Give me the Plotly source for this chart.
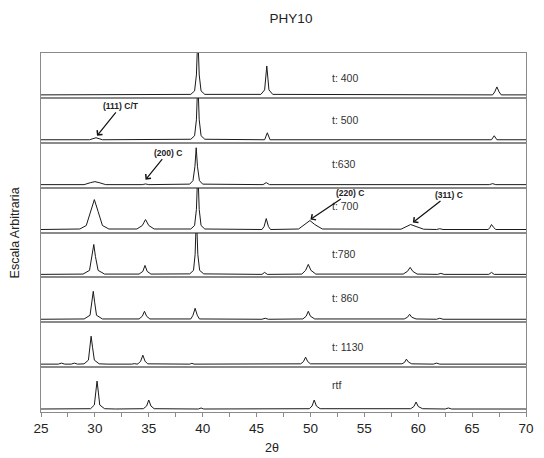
import plotly.graph_objects as go
from plotly.subplots import make_subplots

# ---------------- data (vertices) ----------------
labels = ["t: 400", "t: 500", "t:630", "t: 700", "t:780", "t: 860", "t: 1130", "rtf"]
label_y = [17, 20, 21, 24, 20, 21, 17, 24]

x_400 = [25, 38.9, 39.25, 39.42, 39.55, 39.68, 39.85, 40.2, 45.4, 45.75, 45.95, 46.15, 46.5, 66.9, 67.1, 67.3, 67.5, 67.7, 70]
y_400 = [0, 0.5, 4, 20, 60, 20, 4, 0.5, 0.5, 5, 29, 5, 0.5, 0, 3, 8, 3, 0, 0]

x_500 = [25, 29.5, 30.1, 30.7, 38.9, 39.25, 39.42, 39.55, 39.68, 39.85, 40.2, 45.75, 46.0, 46.25, 66.8, 67.05, 67.3, 70]
y_500 = [0, 0, 2, 0, 0.5, 4, 20, 60, 20, 4, 0.5, 0, 7, 0, 0, 4, 0, 0]

x_630 = [25, 29.0, 29.6, 30.0, 30.4, 31.0, 34.4, 34.7, 35.0, 38.8, 39.1, 39.28, 39.4, 39.52, 39.7, 40.0, 45.6, 45.9, 46.2, 66.6, 66.9, 67.2, 70]
y_630 = [0, 0, 2, 3, 2, 0, 0, 0.7, 0, 0.5, 4, 18, 37, 18, 4, 0.5, 0, 2, 0, 0, 1, 0, 0]

x_700 = [25, 28.6, 29.2, 29.6, 29.95, 30.3, 30.7, 31.3, 33.9, 34.4, 34.7, 35.0, 35.5, 38.9, 39.25, 39.42, 39.55, 39.68, 39.85, 40.2,
         45.5, 45.7, 45.9, 46.1, 46.3, 48.9, 49.5, 49.95, 50.4, 51.1, 58.4, 58.9, 59.3, 59.8, 60.5, 61.7, 62.0, 62.3,
         66.5, 66.65, 66.8, 67.0, 67.2, 70]
y_700 = [0, 0.5, 4, 18, 30, 18, 4, 0.5, 0.5, 4, 10, 4, 0.5, 0.5, 4, 20, 60, 20, 4, 0.5,
         0, 3, 11, 3, 0, 0.5, 5, 9, 5, 0.5, 0.3, 3, 5, 3, 0.3, 0, 0.8, 0,
         0, 2, 5, 2, 0, 0]

x_780 = [25, 28.9, 29.5, 29.75, 29.9, 30.05, 30.3, 30.9, 34.1, 34.45, 34.65, 34.85, 35.2, 38.8, 39.15, 39.3, 39.42, 39.55, 39.72, 40.1,
         45.5, 45.75, 46.0, 49.2, 49.55, 49.8, 50.05, 50.5, 58.6, 59.0, 59.25, 59.5, 59.9, 61.8, 62.1, 62.4, 66.55, 66.8, 67.05, 70]
y_780 = [0, 0.3, 4, 18, 30, 18, 4, 0.3, 0.3, 3, 9, 3, 0.3, 0.5, 4, 20, 60, 20, 4, 0.5,
         0, 2, 0, 0.3, 4, 10, 4, 0.3, 0.3, 3, 7, 3, 0.3, 0, 1, 0, 0, 2, 0, 0]

x_860 = [25, 29.0, 29.55, 29.72, 29.85, 29.98, 30.15, 30.7, 34.1, 34.4, 34.6, 34.8, 35.1, 38.9, 39.1, 39.3, 39.5, 39.7,
         45.5, 45.8, 46.1, 49.3, 49.6, 49.8, 50.0, 50.4, 58.7, 59.0, 59.2, 59.4, 59.8, 61.7, 62.0, 62.3, 70]
y_860 = [0, 0.3, 4, 17, 28, 17, 4, 0.3, 0.3, 3, 8, 3, 0.3, 0.3, 4, 11, 4, 0.3,
         0, 1, 0, 0.3, 3, 8, 3, 0.3, 0.3, 2, 5, 2, 0.3, 0, 1, 0, 0]

x_1130 = [25, 26.6, 26.9, 27.2, 27.8, 28.1, 28.4, 29.0, 29.4, 29.55, 29.65, 29.78, 29.95, 30.4, 30.8, 31.0, 31.2, 33.4, 33.7, 33.9,
          34.0, 34.25, 34.45, 34.65, 34.9, 38.8, 39.0, 39.2, 45.3, 45.55, 45.8, 49.1, 49.35, 49.55, 49.75, 50.0, 58.5, 58.75, 58.9, 59.1, 59.4,
          61.4, 61.7, 62.0, 70]
y_1130 = [0, 0, 1, 0, 0, 1, 0, 0.3, 4, 17, 28, 17, 4, 0.3, 0, 0.5, 0, 0, 0.5, 0,
          0.3, 3, 9, 3, 0.3, 0, 0.8, 0, 0, 0.5, 0, 0.3, 2.5, 7, 2.5, 0.3, 0.3, 2, 5, 2, 0.3,
          0, 1, 0, 0]

x_rtf = [25, 26.8, 27.1, 27.4, 28.1, 28.4, 28.7, 29.6, 29.95, 30.08, 30.2, 30.32, 30.45, 30.9, 31.5, 31.7, 31.9,
         34.5, 34.8, 35.0, 35.2, 35.5, 39.6, 39.85, 40.1, 49.9, 50.15, 50.35, 50.55, 50.9, 59.3, 59.6, 59.8, 60.0, 60.4,
         62.5, 62.8, 63.1, 70]
y_rtf = [0, 0, 0.7, 0, 0, 0.7, 0, 0.3, 4, 17, 28, 17, 4, 0.3, 0, 0.5, 0,
         0.3, 3, 9, 3, 0.3, 0, 1, 0, 0.3, 3, 9, 3, 0.3, 0.3, 2.5, 7, 2.5, 0.3,
         0, 1, 0, 0]

series_x = [x_400, x_500, x_630, x_700, x_780, x_860, x_1130, x_rtf]
series_y = [y_400, y_500, y_630, y_700, y_780, y_860, y_1130, y_rtf]

# arrow annotations: text, panel index, tip x, tip y
arrow_text = ["(111) C/T", "(200) C", "(220) C", "(311) C"]
arrow_panel = [1, 2, 3, 3]
arrow_x = [30.2, 34.7, 50.0, 59.5]
arrow_y = [4, 5, 10, 7]

tick_vals = [25, 30, 35, 40, 45, 50, 55, 60, 65, 70]

# ---------------- figure ----------------
FONT = "Liberation Sans, Arial, sans-serif"
frame = "#8a8a8a"
n = len(labels)
fig = make_subplots(rows=n, cols=1, shared_xaxes=True, vertical_spacing=0)

for i in range(n):
    fig.add_trace(go.Scatter(x=series_x[i], y=series_y[i], mode="lines",
                             line=dict(color="#1a1a1a", width=1), showlegend=False,
                             hoverinfo="skip"), row=i + 1, col=1)
    fig.update_yaxes(range=[-3, 42], showticklabels=False, ticks="", showgrid=False,
                     zeroline=False, showline=True, linecolor=frame, linewidth=1,
                     mirror=True, row=i + 1, col=1)
    fig.update_xaxes(range=[25, 70], showgrid=False, zeroline=False, showline=True,
                     linecolor=frame, linewidth=1, mirror=True, row=i + 1, col=1)
    yref = "y" if i == 0 else f"y{i + 1}"
    fig.add_annotation(x=51.8, y=label_y[i], xref="x", yref=yref, text=labels[i],
                       showarrow=False, xanchor="left", yanchor="middle",
                       font=dict(family=FONT, size=10.5, color="#333"))

fig.update_xaxes(ticks="outside", ticklen=4, tickcolor=frame, tickvals=tick_vals,
                 ticktext=[str(v) for v in tick_vals],
                 minor=dict(dtick=2.5, ticks="outside", ticklen=4, tickcolor=frame),
                 tickfont=dict(family=FONT, size=13.5, color="#222"), row=n, col=1)

for t, p, ax_, ay_, dx, dy in zip(arrow_text, arrow_panel, arrow_x, arrow_y,
                                  [24, 22, 40, 36], [-30, -27, -27, -28]):
    yref = f"y{p + 1}"
    fig.add_annotation(x=ax_, y=ay_, xref="x", yref=yref, text="<b>" + t + "</b>",
                       showarrow=True, ax=dx, ay=dy, arrowhead=4, arrowsize=1.1,
                       arrowwidth=1.2, arrowcolor="#111", standoff=0,
                       font=dict(family=FONT, size=8.5, color="#222"))

fig.add_annotation(text="Escala Arbitraria", xref="paper", yref="paper",
                   x=(14.5 - 41) / 493, y=0.5, textangle=-90, showarrow=False,
                   xanchor="center", yanchor="middle",
                   font=dict(family=FONT, size=12.5, color="#222"))
fig.add_annotation(text="2θ", xref="paper", yref="paper", x=(276 - 41) / 493,
                   y=-(448 - 412) / 359, showarrow=False, xanchor="center",
                   yanchor="middle",
                   font=dict(family=FONT, size=12.5, color="#222"))

fig.update_layout(
    width=544, height=458,
    margin=dict(l=41, r=10, t=53, b=46),
    paper_bgcolor="white", plot_bgcolor="white",
    title=dict(text="PHY10", x=291 / 544, xref="container", xanchor="center",
               y=1 - 18 / 458, yanchor="middle",
               font=dict(family=FONT, size=13.5, color="#222")),
)

fig.write_html("out.html")
